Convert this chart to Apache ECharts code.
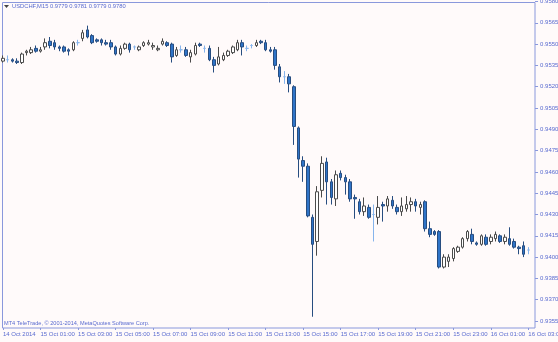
<!DOCTYPE html>
<html><head><meta charset="utf-8">
<script src="https://cdn.jsdelivr.net/npm/echarts@6.0.0/dist/echarts.min.js"></script>
<style>html,body{margin:0;padding:0;background:#fffafa}#c{width:558px;height:342px}</style>
</head><body><div id="c"></div><script>
// 15-minute bars, 14 Oct 2014 23:00 .. 16 Oct 2014 03:00
const tickLabels = ['14 Oct 2014','15 Oct 01:00','15 Oct 03:00','15 Oct 05:00','15 Oct 07:00','15 Oct 09:00','15 Oct 11:00','15 Oct 13:00','15 Oct 15:00','15 Oct 17:00','15 Oct 19:00','15 Oct 21:00','15 Oct 23:00','16 Oct 01:00','16 Oct 03:00'];
const yTicks = { min: 0.9355, max: 0.9580, step: 0.0015 };
const headerText = 'USDCHF,M15 0.9779 0.9781 0.9779 0.9780';
const footerText = 'MT4 TeleTrade, \u00a9 2001-2014, MetaQuotes Software Corp.';

const open = [0.9538,0.9539,0.9539,0.9538,0.9537,0.9544,0.9544,0.9547,0.9545,0.9548,
0.9552,0.9551,0.9548,0.9548,0.9546,0.9546,0.9551,0.9554,0.9560,0.9556,
0.9553,0.9553,0.9551,0.9551,0.9548,0.9543,0.9547,0.9550,0.9548,0.9546,
0.9549,0.9550,0.9548,0.9546,0.9550,0.9551,0.9550,0.9542,0.9546,0.9546,
0.9541,0.9543,0.9550,0.9547,0.9547,0.9539,0.9536,0.9539,0.9542,0.9544,
0.9546,0.9551,0.9547,0.9549,0.9549,0.9552,0.9551,0.9546,0.9546,0.9534,
0.9527,0.9527,0.9520,0.9491,0.9468,0.9464,0.9428,0.9411,0.9447,0.9467,
0.9453,0.9441,0.9459,0.9456,0.9453,0.9442,0.9439,0.9432,0.9435,0.9430,
0.9428,0.9437,0.9436,0.9440,0.9435,0.9432,0.9434,0.9437,0.9439,0.9435,
0.9439,0.9420,0.9418,0.9418,0.9393,0.9397,0.9399,0.9404,0.9407,0.9413,
0.9416,0.9410,0.9409,0.9414,0.9411,0.9413,0.9415,0.9411,0.9413,0.9411,
0.9407,0.9408,0.9405];
const close = [0.9540,0.9539,0.9538,0.9537,0.9543,0.9545,0.9546,0.9545,0.9546,0.9551,
0.9549,0.9548,0.9547,0.9545,0.9545,0.9551,0.9551,0.9558,0.9555,0.9551,
0.9552,0.9551,0.9550,0.9548,0.9543,0.9547,0.9550,0.9546,0.9548,0.9548,
0.9551,0.9551,0.9549,0.9547,0.9552,0.9549,0.9541,0.9546,0.9546,0.9542,
0.9544,0.9549,0.9549,0.9547,0.9539,0.9535,0.9541,0.9542,0.9545,0.9548,
0.9551,0.9548,0.9547,0.9549,0.9551,0.9551,0.9546,0.9545,0.9535,0.9527,
0.9527,0.9522,0.9492,0.9469,0.9464,0.9429,0.9409,0.9446,0.9466,0.9453,
0.9442,0.9458,0.9456,0.9453,0.9441,0.9441,0.9432,0.9436,0.9428,0.9430,
0.9435,0.9436,0.9441,0.9436,0.9432,0.9436,0.9437,0.9439,0.9436,0.9437,
0.9420,0.9416,0.9416,0.9393,0.9400,0.9400,0.9406,0.9407,0.9413,0.9418,
0.9411,0.9409,0.9415,0.9409,0.9414,0.9416,0.9411,0.9414,0.9409,0.9407,
0.9406,0.9402,0.9405];
const low = [0.9537,0.9537,0.9537,0.9536,0.9536,0.9542,0.9543,0.9544,0.9544,0.9546,
0.9547,0.9546,0.9545,0.9544,0.9542,0.9545,0.9549,0.9552,0.9554,0.9550,
0.9551,0.9549,0.9549,0.9546,0.9542,0.9542,0.9546,0.9544,0.9546,0.9545,
0.9548,0.9549,0.9546,0.9545,0.9549,0.9548,0.9537,0.9541,0.9544,0.9541,
0.9537,0.9542,0.9548,0.9544,0.9538,0.9530,0.9535,0.9538,0.9541,0.9543,
0.9545,0.9542,0.9545,0.9547,0.9548,0.9550,0.9545,0.9544,0.9532,0.9523,
0.9522,0.9516,0.9479,0.9456,0.9453,0.9428,0.9358,0.9401,0.9442,0.9437,
0.9437,0.9436,0.9454,0.9444,0.9439,0.9427,0.9430,0.9429,0.9427,0.9411,
0.9423,0.9425,0.9432,0.9434,0.9430,0.9429,0.9432,0.9432,0.9432,0.9430,
0.9418,0.9414,0.9415,0.9392,0.9392,0.9393,0.9397,0.9403,0.9406,0.9411,
0.9409,0.9408,0.9408,0.9408,0.9409,0.9411,0.9410,0.9409,0.9408,0.9406,
0.9402,0.9400,0.9402];
const high = [0.9542,0.9542,0.9540,0.9540,0.9544,0.9546,0.9548,0.9549,0.9548,0.9554,
0.9555,0.9553,0.9549,0.9549,0.9547,0.9552,0.9553,0.9560,0.9563,0.9557,
0.9554,0.9554,0.9553,0.9553,0.9549,0.9549,0.9551,0.9551,0.9549,0.9549,
0.9552,0.9553,0.9551,0.9549,0.9554,0.9552,0.9551,0.9548,0.9549,0.9548,
0.9546,0.9551,0.9551,0.9549,0.9549,0.9541,0.9548,0.9544,0.9546,0.9549,
0.9553,0.9553,0.9549,0.9550,0.9553,0.9553,0.9553,0.9548,0.9548,0.9536,
0.9531,0.9529,0.9521,0.9492,0.9471,0.9466,0.9430,0.9450,0.9471,0.9470,
0.9455,0.9461,0.9461,0.9458,0.9455,0.9444,0.9441,0.9442,0.9437,0.9437,
0.9443,0.9439,0.9443,0.9443,0.9437,0.9442,0.9443,0.9442,0.9441,0.9439,
0.9440,0.9425,0.9419,0.9419,0.9402,0.9402,0.9407,0.9408,0.9414,0.9419,
0.9420,0.9411,0.9416,0.9416,0.9416,0.9418,0.9416,0.9416,0.9421,0.9413,
0.9408,0.9411,0.9407];

const MON = ['Jan','Feb','Mar','Apr','May','Jun','Jul','Aug','Sep','Oct','Nov','Dec'];
const categories = open.map((_, i) => {
  const d = new Date(Date.UTC(2014, 9, 14, 23, 0) + i * 15 * 60000);
  const p = n => String(n).padStart(2, '0');
  return d.getUTCDate() + ' ' + MON[d.getUTCMonth()] + ' ' + p(d.getUTCHours()) + ':' + p(d.getUTCMinutes());
});

const TXT = '#5a6bd0', LINE = '#8a98dc';
const UP_FILL = '#ffffff', UP_LINE = '#4a4a4a', DN_FILL = '#2f74c8', DN_LINE = '#274d80', DOJI = '#86b4ec';
const FONT = '"Liberation Sans Narrow", "Liberation Sans", Arial, sans-serif';

const seriesData = open.map((o, i) => {
  const item = { value: [o, close[i], low[i], high[i]] };
  if (o === close[i]) item.itemStyle = { color: DOJI, color0: DOJI, borderColor: DOJI, borderColor0: DOJI, borderColorDoji: DOJI };
  return item;
});

const chart = echarts.init(document.getElementById('c'), null, { renderer: 'canvas' });
chart.setOption({
  backgroundColor: '#fffafa',
  animation: false,
  grid: { left: 0.65, right: 27.35, top: 1.5, bottom: 21, outerBoundsMode: 'none', containLabel: false },
  xAxis: {
    type: 'category', data: categories, boundaryGap: true, offset: 7,
    axisLine: { show: false },
    axisTick: { show: true, interval: 7, alignWithLabel: true, length: 2, lineStyle: { color: LINE } },
    axisLabel: { interval: 7, align: 'left', margin: 3, fontSize: 6, fontFamily: FONT, color: TXT, hideOverlap: false,
      formatter: (v, idx) => tickLabels[Math.round(idx / 8)] },
    splitLine: { show: false }
  },
  yAxis: {
    type: 'value', position: 'right', offset: 4.4, scale: true,
    min: yTicks.min, max: yTicks.max, interval: yTicks.step,
    axisLine: { show: false },
    axisTick: { show: true, length: 3, lineStyle: { color: LINE } },
    axisLabel: { margin: 5, fontSize: 6, fontFamily: FONT, color: TXT, formatter: v => v.toFixed(4) },
    splitLine: { show: false }
  },
  series: [{
    type: 'candlestick', data: seriesData, barWidth: 3,
    itemStyle: { color: UP_FILL, color0: DN_FILL, borderColor: UP_LINE, borderColor0: DN_LINE, borderColorDoji: DOJI, borderWidth: 1 }
  }],
  graphic: [
    { type: 'rect', silent: true, shape: { x: 2.5, y: 2.5, width: 532.5, height: 325.5 }, style: { fill: 'none', stroke: LINE, lineWidth: 1 } },
    { type: 'polygon', silent: true, shape: { points: [[4, 5], [9, 5], [6.5, 8]] }, style: { fill: '#444' } },
    { type: 'text', silent: true, left: 12, top: 3.5, style: { text: headerText, font: '5.8px ' + FONT, fill: TXT } },
    { type: 'text', silent: true, left: 4, top: 320.5, style: { text: footerText, font: '5.6px ' + FONT, fill: TXT } }
  ]
});
</script></body></html>
